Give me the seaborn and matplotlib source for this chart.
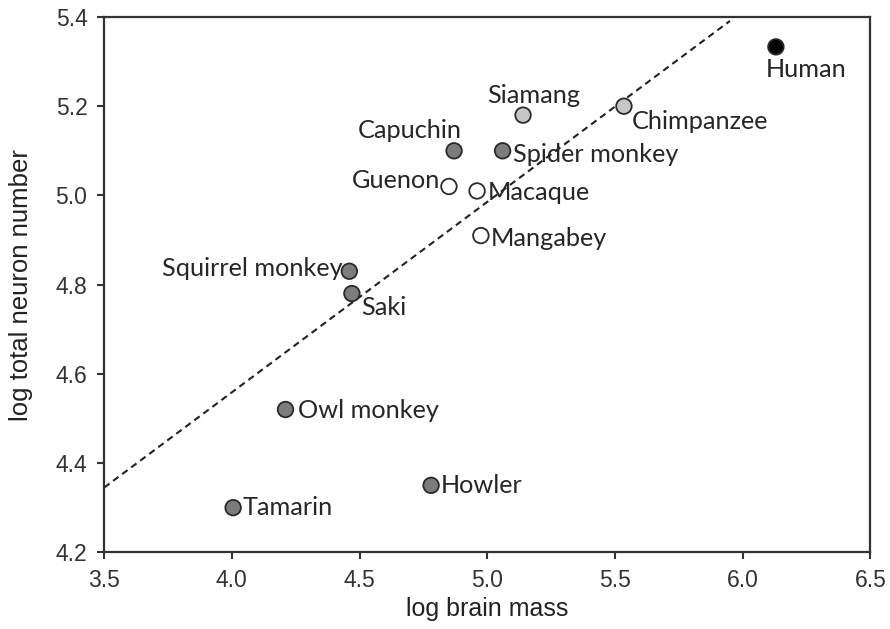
import numpy as np
import pandas as pd
import matplotlib
matplotlib.use("Agg")
import matplotlib.pyplot as plt
import seaborn as sns

# Primate brain scaling data (log10 values)
species = ["Human", "Chimpanzee", "Siamang", "Capuchin", "Spider monkey",
           "Guenon", "Macaque", "Mangabey", "Squirrel monkey", "Saki",
           "Owl monkey", "Howler", "Tamarin"]
log_brain_mass = [6.13, 5.535, 5.14, 4.87, 5.06, 4.85, 4.96, 4.975,
                  4.46, 4.47, 4.21, 4.78, 4.005]
log_neurons = [5.333, 5.20, 5.18, 5.10, 5.10, 5.02, 5.01, 4.91,
               4.83, 4.78, 4.52, 4.35, 4.30]
group = ["human", "ape", "ape", "new world", "new world",
         "old world", "old world", "old world", "new world", "new world",
         "new world", "new world", "new world"]

# Regression line endpoints (x range) and coefficients
fit_x = [3.5, 5.95]
fit_intercept = 4.345
fit_slope = 0.427

group_colors = {"human": "#000000", "ape": "#c6c6c6",
                "new world": "#7c7c7c", "old world": "#ffffff"}

# label offsets in pixels and alignment
label_style = {
    "Human": (30, -23, "center"),
    "Chimpanzee": (8, -15, "left"),
    "Siamang": (11, 20, "center"),
    "Capuchin": (8, 20, "right"),
    "Spider monkey": (10, -4, "left"),
    "Guenon": (-9, 6, "right"),
    "Macaque": (11, -2, "left"),
    "Mangabey": (10, -3, "left"),
    "Squirrel monkey": (-7, 3, "right"),
    "Saki": (9, -14, "left"),
    "Owl monkey": (13, -1, "left"),
    "Howler": (10, 0, "left"),
    "Tamarin": (10, 0, "left"),
}

df = pd.DataFrame({"species": species, "x": log_brain_mass,
                   "y": log_neurons, "group": group})

sns.set_style("ticks")
plt.rcParams["font.family"] = ["Liberation Sans", "DejaVu Sans"]

fig = plt.figure(figsize=(8.9, 6.29), dpi=100)
ax = fig.add_axes([0.117, 0.122, 0.861, 0.851])

# dashed fit line
fx = np.array(fit_x)
sns.lineplot(x=fx, y=fit_intercept + fit_slope * (fx - 3.5), ax=ax,
             color="#222222", linestyle=(0, (3.2, 2.2)), linewidth=1.5,
             zorder=2)

sns.scatterplot(data=df, x="x", y="y", hue="group", palette=group_colors,
                s=125, edgecolor="#2a2a2a", linewidth=1.3, legend=False,
                ax=ax, zorder=3)

for name, xv, yv in zip(species, log_brain_mass, log_neurons):
    dx, dy, ha = label_style[name]
    ax.annotate(name, (xv, yv), xytext=(dx, dy), textcoords="offset pixels",
                ha=ha, va="center", fontsize=18.2, family=["Lato", "DejaVu Sans"],
                color="#262626", zorder=4)

ax.set_xlim(3.5, 6.5)
ax.set_ylim(4.2, 5.4)
ax.set_xticks([3.5, 4.0, 4.5, 5.0, 5.5, 6.0, 6.5])
ax.set_yticks([4.2, 4.4, 4.6, 4.8, 5.0, 5.2, 5.4])
ax.xaxis.set_major_formatter(matplotlib.ticker.FormatStrFormatter("%.1f"))
ax.yaxis.set_major_formatter(matplotlib.ticker.FormatStrFormatter("%.1f"))
ax.tick_params(axis="both", labelsize=16.5, colors="#333333", length=5,
               width=1.5, direction="out", pad=7)
for sp in ax.spines.values():
    sp.set_visible(True)
    sp.set_linewidth(1.6)
    sp.set_color("#333333")

ax.set_xlabel("log brain mass", fontsize=18, color="#222222", labelpad=4)
ax.set_ylabel("log total neuron number", fontsize=18.5, color="#222222",
              labelpad=16)

fig.savefig("out.png", dpi=100)
